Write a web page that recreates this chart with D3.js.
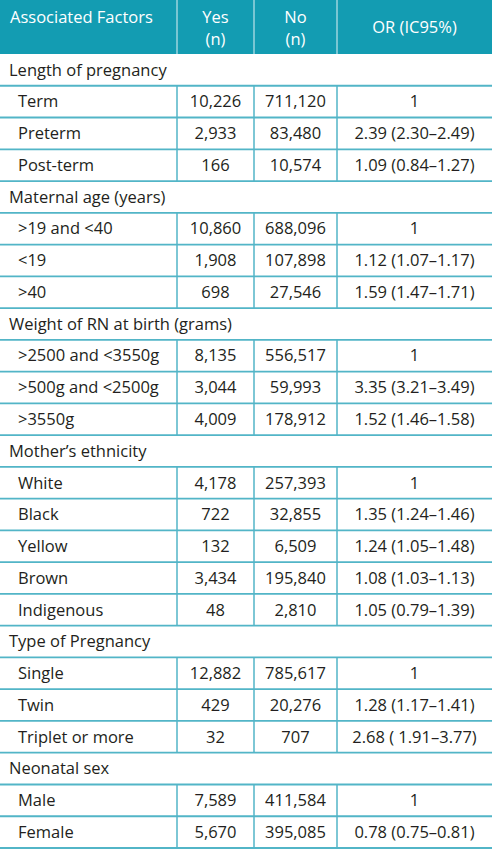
<!DOCTYPE html>
<html><head><meta charset="utf-8">
<script src="https://cdn.jsdelivr.net/npm/d3@7"></script>
<style>
html,body{margin:0;padding:0;background:#fff;}
svg{display:block;}
</style></head>
<body>
<script>
const headers = [["Associated Factors"], ["Yes", "(n)"], ["No", "(n)"], ["OR (IC95%)"]];
const sections = ["Length of pregnancy", "Maternal age (years)", "Weight of RN at birth (grams)", "Mother\u2019s ethnicity", "Type of Pregnancy", "Neonatal sex"];
const sectionOf = [0,0,0, 1,1,1, 2,2,2, 3,3,3,3,3, 4,4,4, 5,5];
const factors = ["Term", "Preterm", "Post-term", ">19 and <40", "<19", ">40", ">2500 and <3550g", ">500g and <2500g", ">3550g", "White", "Black", "Yellow", "Brown", "Indigenous", "Single", "Twin", "Triplet or more", "Male", "Female"];
const yesN = ["10,226", "2,933", "166", "10,860", "1,908", "698", "8,135", "3,044", "4,009", "4,178", "722", "132", "3,434", "48", "12,882", "429", "32", "7,589", "5,670"];
const noN = ["711,120", "83,480", "10,574", "688,096", "107,898", "27,546", "556,517", "59,993", "178,912", "257,393", "32,855", "6,509", "195,840", "2,810", "785,617", "20,276", "707", "411,584", "395,085"];
const orCI = ["1", "2.39 (2.30\u20132.49)", "1.09 (0.84\u20131.27)", "1", "1.12 (1.07\u20131.17)", "1.59 (1.47\u20131.71)", "1", "3.35 (3.21\u20133.49)", "1.52 (1.46\u20131.58)", "1", "1.35 (1.24\u20131.46)", "1.24 (1.05\u20131.48)", "1.08 (1.03\u20131.13)", "1.05 (0.79\u20131.39)", "1", "1.28 (1.17\u20131.41)", "2.68 ( 1.91\u20133.77)", "1", "0.78 (0.75\u20130.81)"];

// build row list
const rows = [];
sectionOf.forEach((s, i) => {
  if (i === 0 || sectionOf[i-1] !== s) rows.push({type: "section", label: sections[s]});
  rows.push({type: "data", label: factors[i], yes: yesN[i], no: noN[i], or: orCI[i]});
});

const W = 492, H = 850;
const headerH = 54, tableBottom = 848;
const colEdges = [0, 177, 254, 337, 492];
const teal = "#139cb2", line = "#52b5c7", textC = "#231f20";
const font = "'Open Sans', 'Noto Sans', sans-serif";
const fs = 16.5;

const y = d3.scaleLinear().domain([0, rows.length]).range([headerH, tableBottom]);

const svg = d3.select("body").append("svg").attr("width", W).attr("height", H);

// header
svg.append("rect").attr("x", 0).attr("y", 0).attr("width", W).attr("height", headerH).attr("fill", teal);
svg.selectAll("line.hdiv").data(colEdges.slice(1, 4)).join("line")
  .attr("x1", d => d).attr("x2", d => d).attr("y1", 0).attr("y2", headerH)
  .attr("stroke", "#bfe3ea").attr("stroke-width", 1.2);

headers.forEach((h, i) => {
  const t = svg.append("text").attr("fill", "#fff").attr("font-family", font).attr("font-size", fs)
    .attr("text-anchor", i === 0 ? "start" : "middle")
    .attr("x", i === 0 ? 10 : (colEdges[i] + colEdges[i+1]) / 2);
  if (h.length === 1) {
    t.attr("y", 17).attr("dy", "0.35em").text(h[0]);
    if (i === 3) t.attr("y", headerH / 2);
  } else {
    h.forEach((s, k) => t.append("tspan").attr("x", (colEdges[i] + colEdges[i+1]) / 2)
      .attr("y", 17 + k * 22).attr("dy", "0.35em").text(s));
  }
});

// rows
const g = svg.selectAll("g.row").data(rows).join("g").attr("class", "row")
  .attr("transform", (d, i) => `translate(0,${y(i)})`);
const rh = y(1) - y(0);

// vertical dividers for data rows
g.filter(d => d.type === "data").selectAll("line.v").data(colEdges.slice(1, 4)).join("line")
  .attr("x1", d => d).attr("x2", d => d).attr("y1", 0).attr("y2", rh)
  .attr("stroke", line).attr("stroke-width", 1.5);

// horizontal line under each row
g.append("line").attr("x1", 0).attr("x2", W).attr("y1", rh).attr("y2", rh)
  .attr("stroke", line).attr("stroke-width", 1.8);

g.append("text").attr("x", d => d.type === "section" ? 9 : 18).attr("y", rh / 2).attr("dy", "0.35em")
  .attr("font-family", font).attr("font-size", fs).attr("fill", textC).text(d => d.label);

const dataG = g.filter(d => d.type === "data");
[["yes", 1], ["no", 2], ["or", 3]].forEach(([k, c]) => {
  dataG.append("text").attr("x", (colEdges[c] + colEdges[c+1]) / 2).attr("y", rh / 2).attr("dy", "0.35em")
    .attr("text-anchor", "middle").attr("font-family", font).attr("font-size", fs).attr("fill", textC)
    .text(d => d[k]);
});
</script>
</body></html>
